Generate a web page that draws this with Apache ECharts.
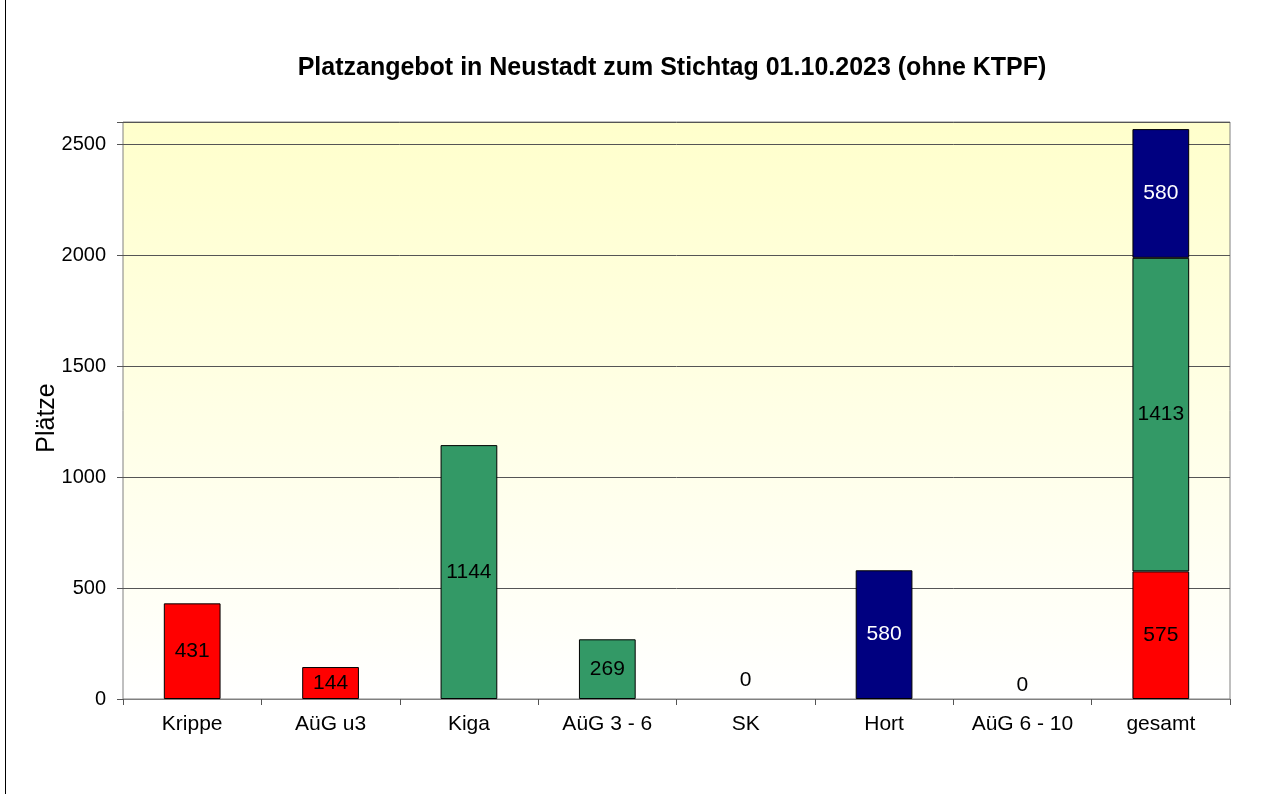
<!DOCTYPE html>
<html>
<head>
<meta charset="utf-8">
<script src="https://cdn.jsdelivr.net/npm/echarts@6/dist/echarts.min.js"></script>
<style>
  html, body { margin: 0; padding: 0; background: #fff; }
  #chart { width: 1287px; height: 794px; }
</style>
</head>
<body>
<div id="chart"></div>
<script>
// Kategorien und Werte (Stichtag 01.10.2023)
const categories = ['Krippe', 'AüG u3', 'Kiga', 'AüG 3 - 6', 'SK', 'Hort', 'AüG 6 - 10', 'gesamt'];
const unter3 = [431, 144, null, null, null, null, null, 575];
const drei6 = [null, null, 1144, 269, 0, null, null, 1413];
const sechs10 = [null, null, null, null, null, 580, 0, 580];
const yTicks = [0, 500, 1000, 1500, 2000, 2500];

const chart = echarts.init(document.getElementById('chart'));

const font = 'Arial, "Liberation Sans", sans-serif';

const mkSeries = (name, data, color, labelColor) => ({
  name,
  type: 'bar',
  stack: 'total',
  barWidth: '41%',
  data: data.map(v => v === 0
    ? {
        value: v,
        itemStyle: { borderWidth: 0 },
        label: { position: 'top', color: '#000', distance: name === 'drei6' ? 8 : 3 }
      }
    : v),
  itemStyle: { color, borderColor: '#000', borderWidth: 1 },
  label: {
    show: true,
    position: 'inside',
    color: labelColor,
    fontSize: 21,
    fontFamily: font,
    formatter: p => (p.value == null ? '' : p.value)
  }
});

const option = {
  backgroundColor: '#fff',
  animation: false,
  title: {
    text: 'Platzangebot in Neustadt zum Stichtag 01.10.2023 (ohne KTPF)',
    left: 667,
    textAlign: 'center',
    top: 51,
    textStyle: { fontSize: 25, fontWeight: 'bold', color: '#000', fontFamily: font }
  },
  grid: {
    left: 123, right: 57, top: 122, bottom: 95,
    show: true,
    borderColor: '#808080',
    borderWidth: 1,
    backgroundColor: new echarts.graphic.LinearGradient(0, 0, 0, 1, [
      { offset: 0, color: '#FFFFCC' },
      { offset: 1, color: '#FFFFFF' }
    ])
  },
  xAxis: {
    type: 'category',
    data: categories,
    axisLine: { lineStyle: { color: '#808080', width: 1 } },
    axisTick: { show: true, length: 6, lineStyle: { color: '#555' } },
    axisLabel: { color: '#000', fontSize: 21, fontFamily: font, margin: 15 }
  },
  yAxis: {
    type: 'value',
    min: 0,
    max: 2600,
    interval: 500,
    axisLine: { show: false },
    axisTick: { show: true, length: 6, lineStyle: { color: '#555' } },
    axisLabel: {
      color: '#000', fontSize: 20, fontFamily: font, margin: 17,
      formatter: v => (yTicks.includes(v) ? v : '')
    },
    splitLine: { lineStyle: { color: '#555', width: 1 } }
  },
  series: [
    mkSeries('unter3', unter3, '#FF0000', '#000'),
    mkSeries('drei6', drei6, '#339966', '#000'),
    mkSeries('sechs10', sechs10, '#000080', '#fff')
  ],
  graphic: [
    { type: 'line', shape: { x1: 5.5, y1: 0, x2: 5.5, y2: 794 }, style: { stroke: '#000', lineWidth: 1 } },
    // Achsentitel
    {
      type: 'text',
      x: 47, y: 418,
      rotation: Math.PI / 2,
      style: {
        text: 'Plätze', fontSize: 25, fontFamily: font, fill: '#000',
        align: 'center', verticalAlign: 'middle'
      }
    }
  ]
};

chart.setOption(option);
</script>
</body>
</html>
